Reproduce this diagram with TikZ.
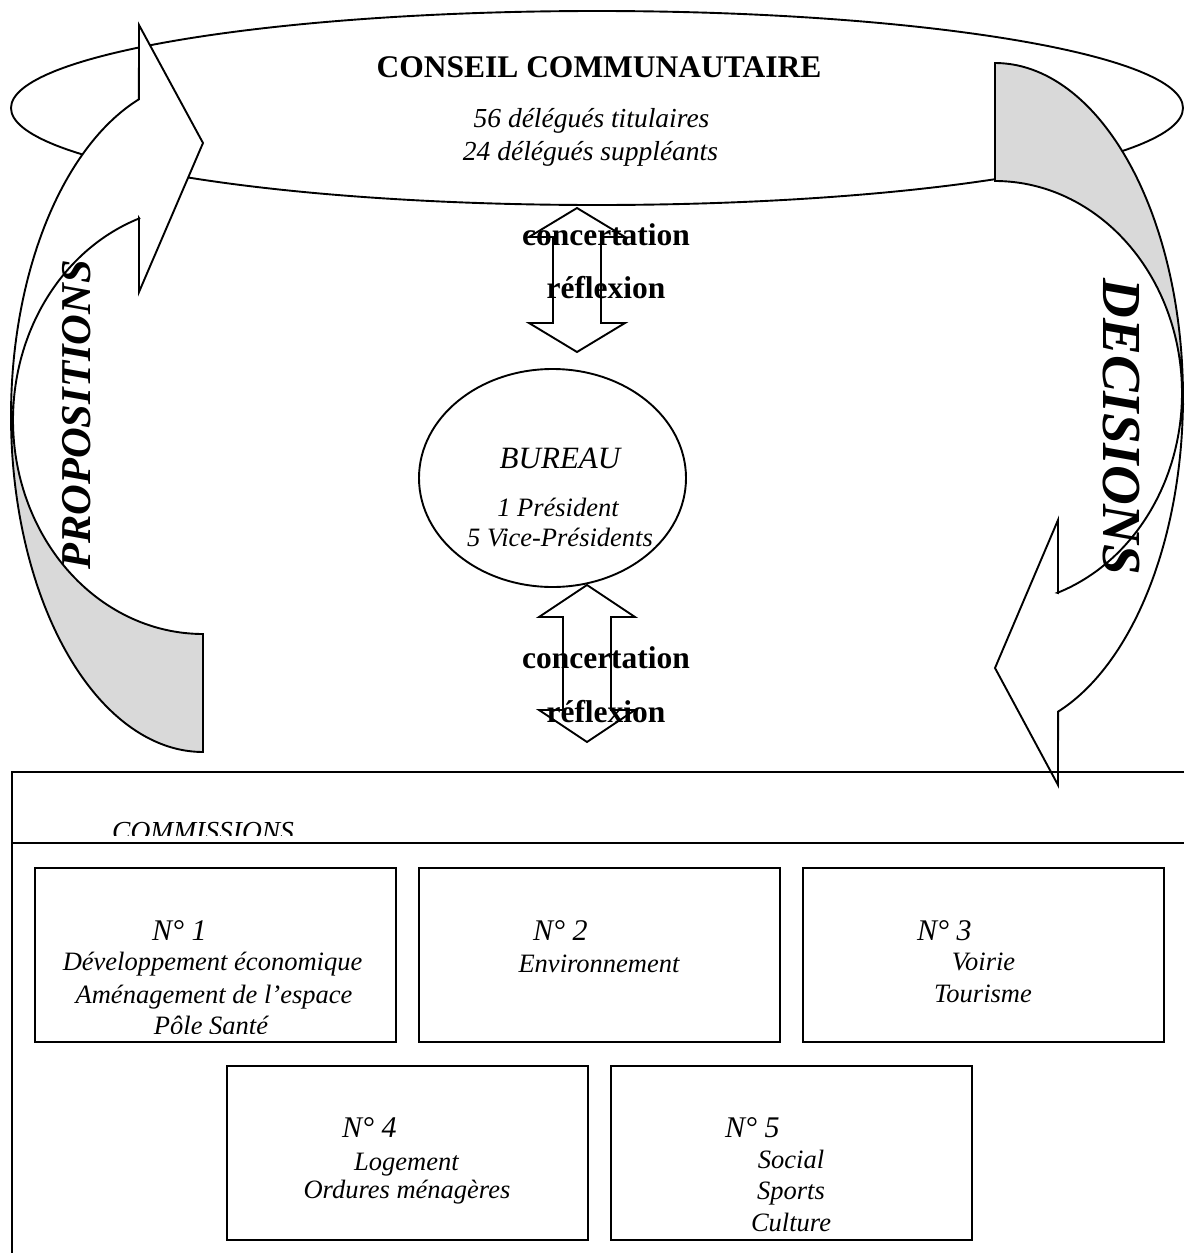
\documentclass[tikz,border=0pt]{standalone}
\usepackage{fontspec}
\setmainfont{Liberation Serif}
\usetikzlibrary{shapes.geometric}
\tikzset{
  outline/.style={draw=black, line width=1.9pt, line join=miter},
  backface/.style={outline, fill=black!15},
  frontface/.style={outline, fill=white},
  titletext/.style={font=\fontsize{31.5}{36}\selectfont\bfseries, anchor=base, inner sep=0pt},
  flowtext/.style={font=\fontsize{31.5}{36}\selectfont\bfseries, anchor=base, inner sep=0pt},
  ittext/.style={font=\fontsize{27.5}{32}\selectfont\itshape, anchor=base, inner sep=0pt},
  numtext/.style={font=\fontsize{30}{34}\selectfont\itshape, anchor=base west, inner sep=0pt},
  comtext/.style={font=\fontsize{26.5}{31}\selectfont\itshape, anchor=base, inner sep=0pt},
  sidetext/.style={font=\bfseries\itshape, inner sep=0pt},
  combox/.style={outline, fill=white, minimum width=361pt, minimum height=174pt, inner sep=0pt},
}
\begin{document}
\begin{tikzpicture}[x=1pt,y=-1pt]
\useasboundingbox (0,0) rectangle (1184,1253);

% Conseil communautaire ellipse
\node[outline, fill=white, ellipse, minimum width=1172pt, minimum height=194pt, inner sep=0pt] (conseil) at (597,108) {};

% Left curved arrow (PROPOSITIONS)
\filldraw[backface] plot[domain=90:180, samples=80] ({203+192*cos(\x)},{416+336*sin(\x)})
  -- plot[domain=180:90, samples=80] ({203+190*cos(\x)},{420+214*sin(\x)}) -- cycle;
\filldraw[frontface] plot[domain=180:250.5, samples=80] ({203+192*cos(\x)},{416+336*sin(\x)})
  -- (139,25) -- (203,143) -- (139,292) -- (139,218)
  -- plot[domain=250.4:180, samples=80] ({203+190*cos(\x)},{420+214*sin(\x)}) -- cycle;

% Right curved arrow (DECISIONS)
\filldraw[backface] plot[domain=270:360, samples=80] ({995+188*cos(\x)},{397+334*sin(\x)})
  -- plot[domain=360:270, samples=80] ({995+187*cos(\x)},{393+212*sin(\x)}) -- cycle;
\filldraw[frontface] plot[domain=0:70.4, samples=80] ({995+188*cos(\x)},{397+334*sin(\x)})
  -- (1058,785) -- (995,668) -- (1058,520) -- (1058,593)
  -- plot[domain=70.5:0, samples=80] ({995+187*cos(\x)},{393+212*sin(\x)}) -- cycle;

% Bureau ellipse
\node[outline, fill=white, ellipse, minimum width=267pt, minimum height=218pt, inner sep=0pt] (bureau) at (552.5,478) {};

% Double arrows
\filldraw[frontface] (577,208) -- (625,237) -- (601,237) -- (601,323) -- (625,323) -- (577,352)
  -- (529,323) -- (553,323) -- (553,237) -- (529,237) -- cycle;
\filldraw[frontface] (587,585) -- (635,617) -- (611,617) -- (611,710) -- (635,710) -- (587,742)
  -- (539,710) -- (563,710) -- (563,617) -- (539,617) -- cycle;

% Conseil texts
\node[titletext] (ctitle) at (599,77) {CONSEIL COMMUNAUTAIRE};
\node[ittext] (ctit) at (591.5,127) {56 délégués titulaires};
\node[ittext] (csup) at (590.5,160) {24 délégués suppléants};

% Flow labels
\node[flowtext] (conc1) at (606,245) {concertation};
\node[flowtext] (refl1) at (606,298) {réflexion};
\node[flowtext] (conc2) at (606,668) {concertation};
\node[flowtext] (refl2) at (606,722) {réflexion};

% Bureau texts
\node[ittext, font=\fontsize{31}{35}\selectfont\itshape] (btitle) at (560,468) {BUREAU};
\node[comtext] (bpres) at (558,516) {1 Président};
\node[comtext] (bvice) at (560,546) {5 Vice-Présidents};

% Side labels
\node[sidetext, font=\fontsize{42.5}{46}\selectfont\bfseries\itshape, rotate=90] (prop) at (77,415) {PROPOSITIONS};
\node[sidetext, font=\fontsize{55}{60}\selectfont\bfseries\itshape, rotate=-90] (deci) at (1121,427) {DECISIONS};

% Commissions frame
\coordinate (ftr) at (1184,772);
\coordinate (ftl) at (12,772);
\coordinate (fbl) at (12,1253);
\coordinate (hl) at (12,843);
\coordinate (hr) at (1184,843);
\draw[outline] (ftr) -- (ftl) -- (fbl);
\draw[outline] (hl) -- (hr);
\begin{scope}
  \clip (12,772) rectangle (1184,835);
  \node[ittext, anchor=base west] (comm) at (112,840) {COMMISSIONS};
\end{scope}

% Commission boxes
\node[combox] (c1) at (215.5,955) {};
\node[combox] (c2) at (599.5,955) {};
\node[combox] (c3) at (983.5,955) {};
\node[combox] (c4) at (407.5,1153) {};
\node[combox] (c5) at (791.5,1153) {};

\begin{scope}
  \clip (35,868) rectangle (396,1033);
  \node[numtext] (n1) at (152,940) {N° 1};
  \node[comtext] (c1a) at (212.5,970) {Développement économique};
  \node[comtext] (c1b) at (214,1003) {Aménagement de l’espace};
  \node[comtext] (c1c) at (211,1034) {Pôle Santé};
\end{scope}

\node[numtext] (n2) at (533,940) {N° 2};
\node[comtext] (c2a) at (599,972) {Environnement};

\node[numtext] (n3) at (917,940) {N° 3};
\node[comtext] (c3a) at (983.5,970) {Voirie};
\node[comtext] (c3b) at (983,1002) {Tourisme};

\node[numtext] (n4) at (342,1137) {N° 4};
\node[comtext] (c4a) at (406.5,1170) {Logement};
\node[comtext] (c4b) at (407,1198) {Ordures ménagères};

\begin{scope}
  \clip (611,1066) rectangle (972,1231);
  \node[numtext] (n5) at (725,1137) {N° 5};
  \node[comtext] (c5a) at (791,1168) {Social};
  \node[comtext] (c5b) at (791,1199) {Sports};
  \node[comtext] (c5c) at (791,1231) {Culture};
\end{scope}
\end{tikzpicture}
\end{document}
